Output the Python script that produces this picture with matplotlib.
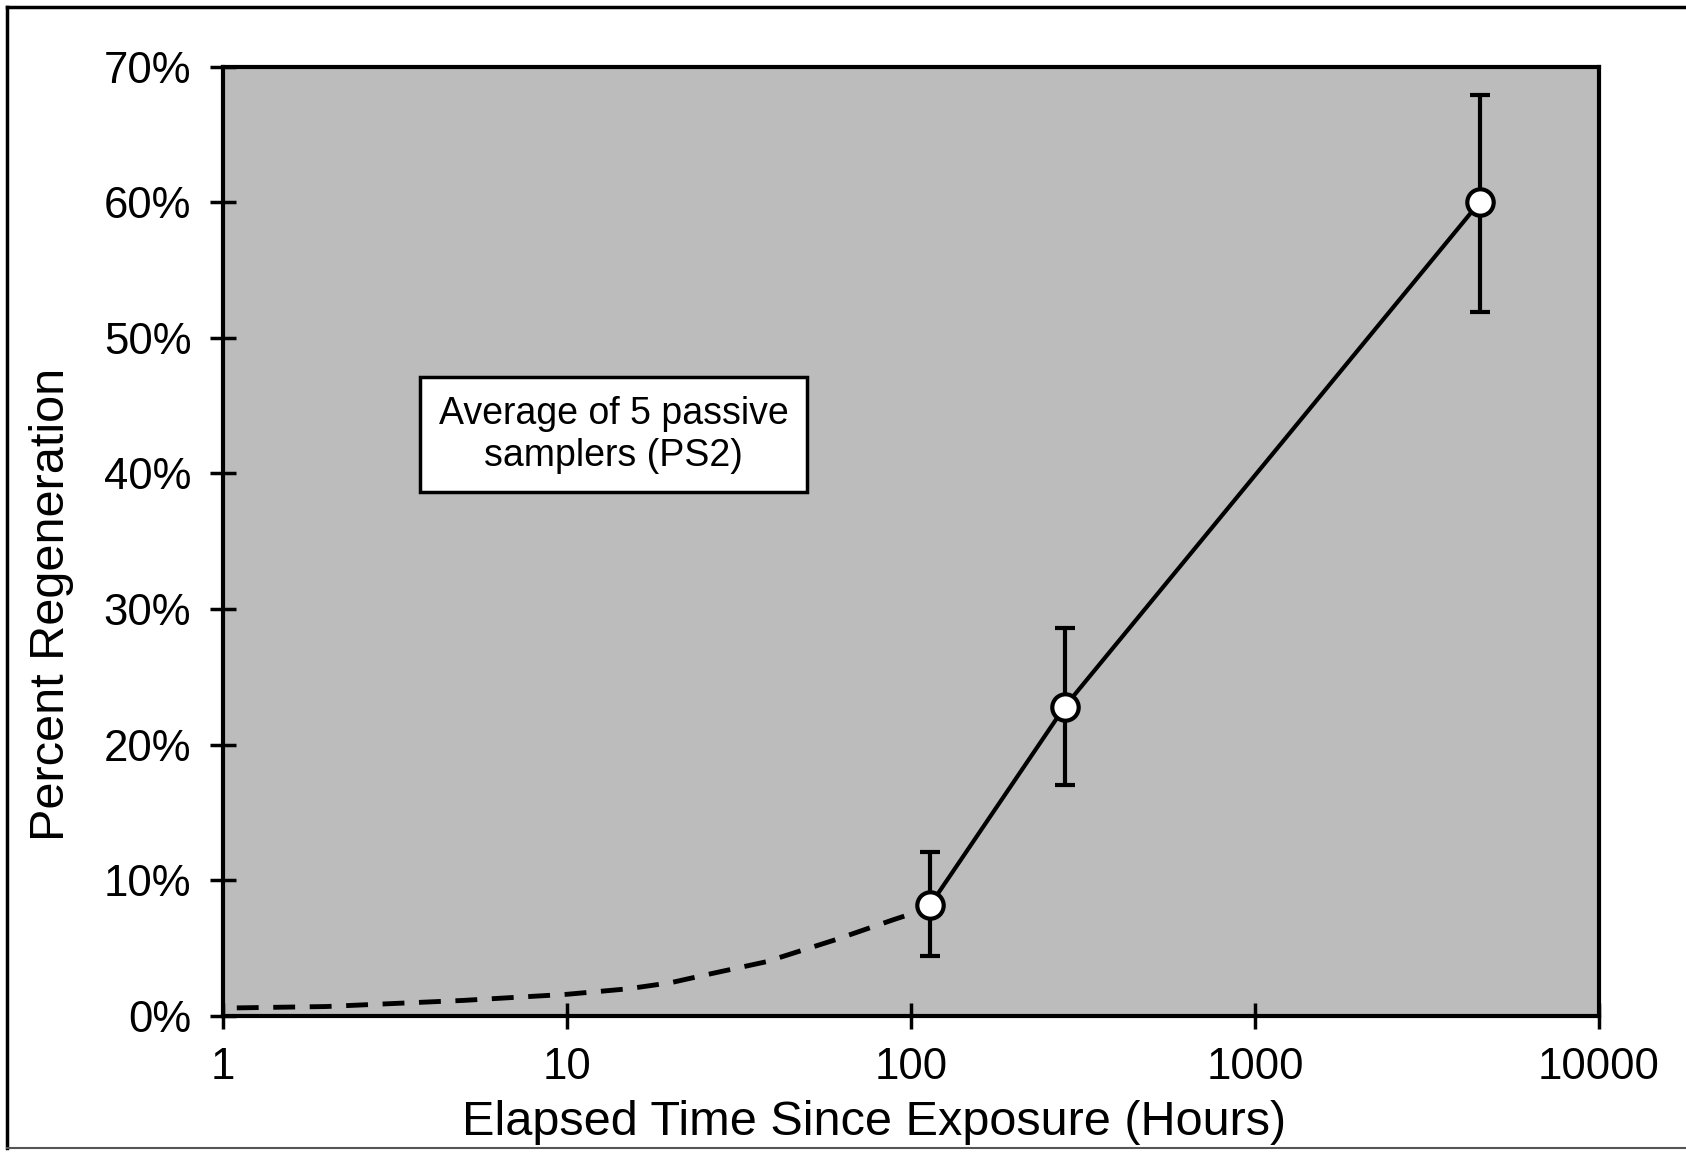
import numpy as np
import matplotlib.pyplot as plt
from matplotlib.lines import Line2D
from matplotlib.ticker import FixedLocator, FuncFormatter

plt.rcParams['font.family'] = ['Liberation Sans', 'DejaVu Sans']

# measured points (hours, percent regeneration)
hours = [114, 280, 4500]
regen = [8.2, 22.8, 60.0]
err_low = [4.4, 17.0, 51.9]
err_high = [12.1, 28.6, 67.9]

# dashed extrapolation curve
curve_hours = [1.1, 2, 3, 5, 10, 15, 20, 25, 38, 60, 89, 105, 114]
curve_regen = [0.6, 0.7, 0.9, 1.15, 1.6, 2.0, 2.45, 3.0, 4.0, 5.6, 7.1, 7.7, 8.2]

x_ticks = [1, 10, 100, 1000, 10000]
y_ticks = [0, 10, 20, 30, 40, 50, 60, 70]

box_text = 'Average of 5 passive\nsamplers (PS2)'

fig = plt.figure(figsize=(16.86, 11.53), dpi=100)
ax = fig.add_axes([0.132, 0.1188, 0.8164, 0.8235])
ax.set_facecolor('#bcbcbc')

yerr = [np.array(regen) - np.array(err_low), np.array(err_high) - np.array(regen)]

ax.plot(curve_hours, curve_regen, color='black', lw=3.5, dashes=(4.5, 3), zorder=2)
ax.errorbar(hours, regen, yerr=yerr, fmt='none', ecolor='black', elinewidth=3,
            capsize=7, capthick=3, zorder=3)
ax.plot(hours, regen, color='black', lw=3, marker='o', markersize=19,
        markerfacecolor='white', markeredgecolor='black', markeredgewidth=3, zorder=4)

ax.set_xscale('log')
ax.set_xlim(1, 10000)
ax.set_ylim(0, 70)
ax.xaxis.set_major_locator(FixedLocator(x_ticks))
ax.xaxis.set_minor_locator(FixedLocator([]))
ax.xaxis.set_major_formatter(FuncFormatter(lambda v, p: '%d' % v))
ax.set_yticks(y_ticks)
ax.yaxis.set_major_formatter(FuncFormatter(lambda v, p: '%d%%' % v))
ax.tick_params(axis='both', direction='inout', length=19, width=2.5, pad=13, labelsize=31.5)

for s in ax.spines.values():
    s.set_linewidth(3)

ax.set_xlabel('Elapsed Time Since Exposure (Hours)', fontsize=35, va='top')
ax.xaxis.set_label_coords(0.473, -0.0885)
ax.set_ylabel('Percent Regeneration', fontsize=35)
ax.yaxis.set_label_coords(-0.108, 0.434)

ax.text(0.284, 0.612, box_text, transform=ax.transAxes, fontsize=27,
        ha='center', va='center', linespacing=1.2, zorder=5,
        bbox=dict(boxstyle='square,pad=0.5', facecolor='white', edgecolor='black', linewidth=2.5))

# outer frame of the scanned page (left, top, bottom)
fig.add_artist(Line2D([7 / 1686, 7 / 1686], [5 / 1153, 1 - 7 / 1153], color='black', lw=2.5))
fig.add_artist(Line2D([7 / 1686, 1], [1 - 7 / 1153, 1 - 7 / 1153], color='black', lw=2.5))
fig.add_artist(Line2D([7 / 1686, 1], [5 / 1153, 5 / 1153], color='#555555', lw=1.5))

fig.savefig('out.png', dpi=100)
